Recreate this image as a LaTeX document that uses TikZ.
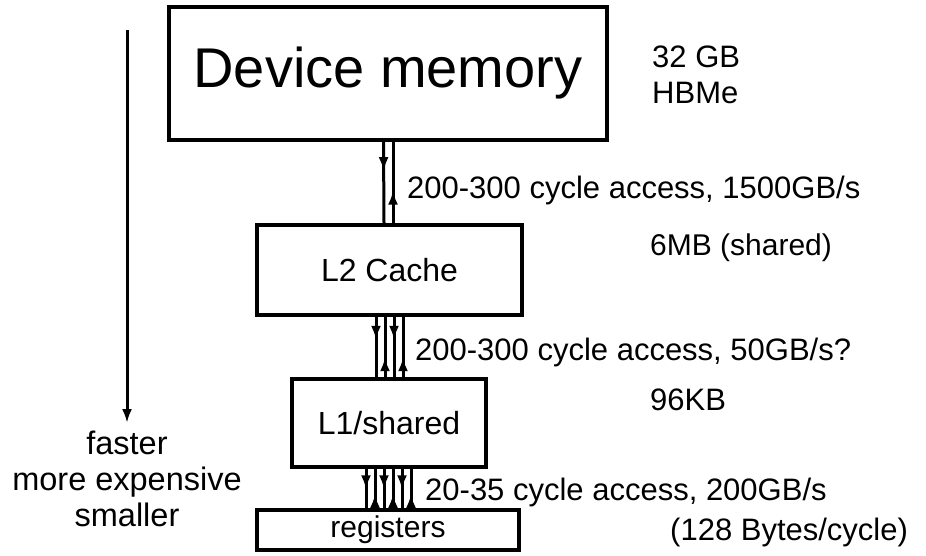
\documentclass[tikz,border=0pt]{standalone}
\usepackage{fontspec}
\setmainfont{Liberation Sans}
\usetikzlibrary{arrows.meta,decorations.markings,calc}
\begin{document}
\begin{tikzpicture}[x=1pt,y=-1pt,
  box/.style={draw,line width=4pt,inner sep=0pt,anchor=center},
  lbl/.style={font=\fontsize{31}{36}\selectfont,inner sep=0pt,anchor=base west},
  tip/.style={-{Latex[length=14pt,width=10pt]}},
  mk/.style={line width=3pt,postaction={decorate},decoration={markings,mark=at position #1 with {\arrow{Latex[length=14pt,width=10pt]}}}}
]
\useasboundingbox (0,0) rectangle (926,555);
\node[box,minimum width=438pt,minimum height=133pt,font=\fontsize{56}{60}\selectfont] (dm) at (388,73.5) {\raisebox{2pt}{Device memory}};
\node[box,minimum width=265pt,minimum height=90pt,font=\fontsize{32}{36}\selectfont] (l2) at (389.5,270) {L2 Cache};
\node[box,minimum width=194pt,minimum height=88pt,font=\fontsize{32}{36}\selectfont] (l1) at (389,423) {L1/shared};
\node[box,minimum width=262pt,minimum height=40pt,font=\fontsize{30}{32}\selectfont] (rg) at (388,530) {registers};

% Device <-> L2
\draw[mk=0.36] ($(dm.south)+(-4.5,0)$) -- ($(l2.north)+(-5.5,0)$);
\draw[mk=0.40] ($(l2.north)+(3.5,0)$) -- ($(dm.south)+(5,0)$);
% L2 <-> L1
\foreach \dx in {-13,5}{
  \draw[mk=0.38] ($(l2.south)+(\dx-0.5,0)$) -- ($(l1.north)+(\dx,0)$);
  \draw[mk=0.33] ($(l1.north)+(\dx+9,0)$) -- ($(l2.south)+(\dx+8.5,0)$);
}
% L1 <-> registers
\foreach \dx in {-23,-5,13}{
  \draw[mk=0.52] ($(l1.south)+(\dx,0)$) -- ($(rg.north)+(\dx+1,0)$);
  \draw[mk=0.36] ($(rg.north)+(\dx+10,0)$) -- ($(l1.south)+(\dx+9,0)$);
}

% left arrow
\coordinate (at) at (127,30);
\node[font=\fontsize{32.5}{36}\selectfont,align=center,inner sep=0pt,anchor=north] (side) at (127,431) {faster\\more expensive\\smaller};
\coordinate (ab) at (127,423);
\draw[line width=3pt,tip] (at) -- (ab);

% labels
\node[lbl] (c1) at (652,67) {32 GB};
\node[lbl] (c1b) at (652,103) {HBMe};
\node[lbl] (b1) at (407,198) {200-300 cycle access, 1500GB/s};
\node[lbl,font=\fontsize{30}{36}\selectfont] (c2) at (650,255) {6MB (shared)};
\node[lbl] (b2) at (415,360) {200-300 cycle access, 50GB/s?};
\node[lbl] (c3) at (650,410) {96KB};
\node[lbl] (b3) at (425,500) {20-35 cycle access, 200GB/s};
\node[lbl] (b3b) at (670,540) {(128 Bytes/cycle)};
\end{tikzpicture}
\end{document}
